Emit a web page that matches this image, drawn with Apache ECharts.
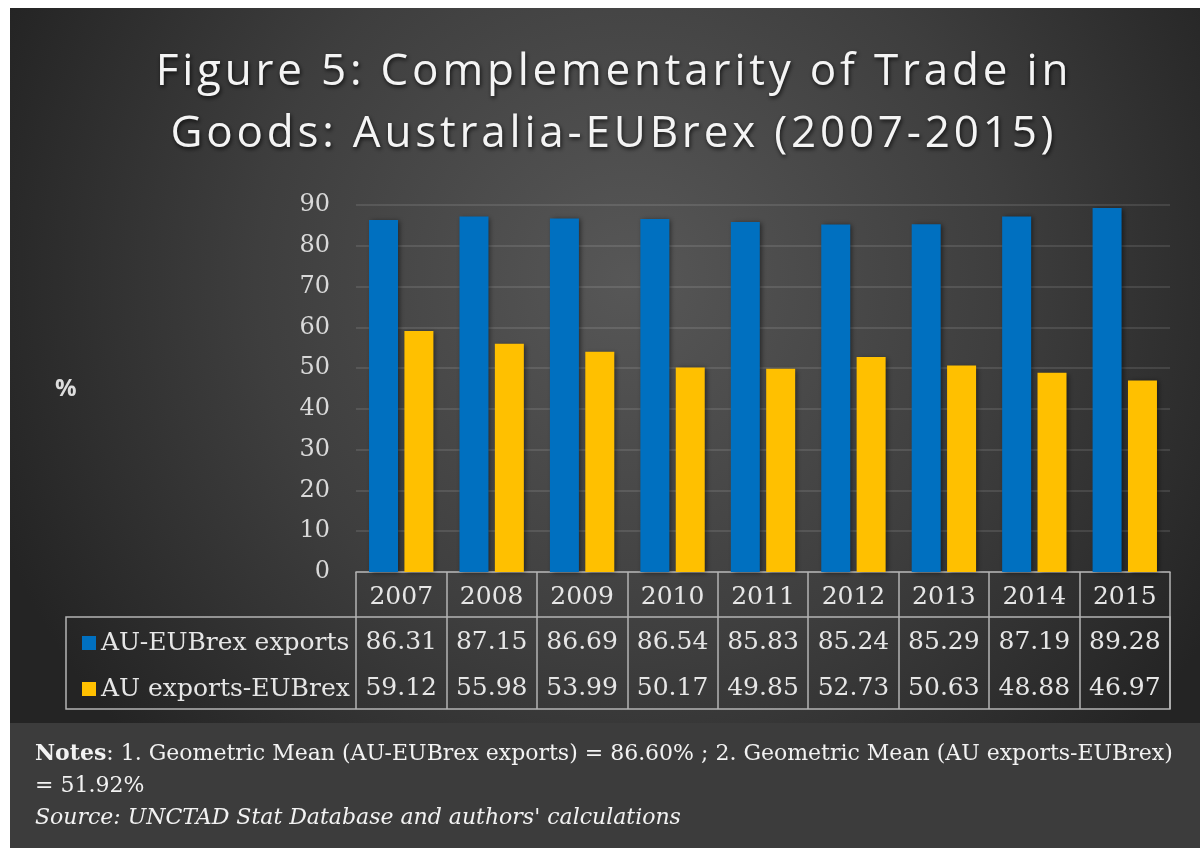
<!DOCTYPE html>
<html>
<head>
<meta charset="utf-8">
<script src="https://cdn.jsdelivr.net/npm/echarts@6/dist/echarts.min.js"></script>
<style>
  html, body { margin: 0; padding: 0; background: #fff; }
  #chart { width: 1200px; height: 848px; }
</style>
</head>
<body>
<div id="chart"></div>
<script>
// data
var years = ['2007', '2008', '2009', '2010', '2011', '2012', '2013', '2014', '2015'];
var auEubrexExports = [86.31, 87.15, 86.69, 86.54, 85.83, 85.24, 85.29, 87.19, 89.28];
var auExportsEubrex = [59.12, 55.98, 53.99, 50.17, 49.85, 52.73, 50.63, 48.88, 46.97];
var seriesNames = ['AU-EUBrex exports', 'AU exports-EUBrex'];
var yTicks = { min: 0, max: 90, interval: 10 };
var titleLines = ['Figure 5: Complementarity of Trade in', 'Goods: Australia-EUBrex (2007-2015)'];

var serif = '"DejaVu Serif", serif';
var lineColor = '#b4b4b4';
var textColor = '#e6e6e6';

// wrap every character in a rich token so the title gets some letter spacing
function spaced(lines) {
  return lines.map(function (l) {
    return l.split('').map(function (c) { return '{s|' + c + '}'; }).join('');
  }).join('\n');
}

var chart = echarts.init(document.getElementById('chart'));

function valueAxis(values, offset) {
  return {
    type: 'category',
    data: years,
    position: 'bottom',
    offset: offset,
    axisLine: { show: false },
    axisTick: { show: false },
    axisLabel: {
      interval: 0,
      margin: 13,
      color: textColor,
      fontFamily: serif,
      fontSize: 25,
      formatter: function (v, i) { return values[i].toFixed(2); }
    }
  };
}

var titleFont = {
  fontFamily: '"Open Sans", sans-serif',
  fontWeight: 'normal',
  fontSize: 44,
  lineHeight: 62,
  color: '#f4f4f4',
  textShadowColor: 'rgba(0,0,0,0.75)',
  textShadowBlur: 4,
  textShadowOffsetX: 1,
  textShadowOffsetY: 2
};

chart.setOption({
  backgroundColor: '#ffffff',
  title: {
    text: spaced(titleLines),
    left: 607,
    textAlign: 'center',
    top: 36,
    textStyle: Object.assign({}, titleFont, {
      rich: { s: Object.assign({}, titleFont, { padding: [0, 1.9] }) }
    })
  },
  legend: {
    orient: 'vertical',
    left: 77,
    top: 625,
    icon: 'rect',
    itemWidth: 14,
    itemHeight: 14,
    itemGap: 20,
    selectedMode: false,
    textStyle: { color: textColor, fontFamily: serif, fontSize: 25, lineHeight: 26 },
    data: seriesNames
  },
  grid: { left: 356, right: 30, top: 205, bottom: 276, outerBoundsMode: 'none' },
  xAxis: [
    {
      type: 'category',
      data: years,
      position: 'bottom',
      axisLine: { show: true, lineStyle: { color: lineColor, width: 1.5 } },
      axisTick: { show: true, length: 137, interval: 0, lineStyle: { color: lineColor, width: 1.5 } },
      axisLabel: { interval: 0, margin: 13, color: textColor, fontFamily: serif, fontSize: 25 }
    },
    valueAxis(auEubrexExports, 45),
    valueAxis(auExportsEubrex, 91)
  ],
  yAxis: {
    type: 'value',
    min: yTicks.min,
    max: yTicks.max,
    interval: yTicks.interval,
    axisLine: { show: false },
    axisTick: { show: false },
    axisLabel: { margin: 26, color: '#d9d9d9', fontFamily: serif, fontSize: 24 },
    splitLine: { lineStyle: { color: 'rgba(255,255,255,0.14)', width: 1.5 } }
  },
  series: [
    {
      name: seriesNames[0],
      type: 'bar',
      data: auEubrexExports,
      barWidth: 29,
      barGap: '22%',
      itemStyle: {
        color: '#0070C0',
        shadowColor: 'rgba(0,0,0,0.5)', shadowBlur: 5, shadowOffsetX: 2, shadowOffsetY: 1
      }
    },
    {
      name: seriesNames[1],
      type: 'bar',
      data: auExportsEubrex,
      barWidth: 29,
      barGap: '22%',
      itemStyle: {
        color: '#FFC000',
        shadowColor: 'rgba(0,0,0,0.5)', shadowBlur: 5, shadowOffsetX: 2, shadowOffsetY: 1
      }
    }
  ],
  graphic: [
    {
      // chart panel
      type: 'rect', z: -20, silent: true,
      shape: { x: 10, y: 8, width: 1190, height: 715 },
      style: {
        fill: {
          type: 'radial', x: 0.52, y: 0.38, r: 0.95,
          colorStops: [
            { offset: 0, color: '#575757' },
            { offset: 0.55, color: '#3e3e3e' },
            { offset: 1, color: '#242424' }
          ]
        }
      }
    },
    {
      // notes panel
      type: 'rect', z: -20, silent: true,
      shape: { x: 10, y: 723, width: 1190, height: 125 },
      style: { fill: '#3c3c3c' }
    },
    {
      // legend cell + table body border
      type: 'rect', z: 5, silent: true,
      shape: { x: 66, y: 617, width: 1104, height: 92 },
      style: { fill: 'none', stroke: lineColor, lineWidth: 1.5 }
    },
    {
      type: 'text', silent: true,
      left: 55, top: 377,
      style: {
        text: '%',
        fill: '#dddddd',
        font: 'bold 24px "Open Sans", sans-serif'
      }
    },
    {
      type: 'text', silent: true,
      left: 35, top: 738,
      style: {
        text: '{b|Notes}: 1. Geometric Mean (AU-EUBrex exports) = 86.60% ; 2. Geometric Mean (AU exports-EUBrex)\n= 51.92%\n{i|Source: UNCTAD Stat Database and authors\' calculations}',
        fill: '#f2f2f2',
        fontFamily: serif,
        fontSize: 22,
        lineHeight: 32,
        rich: {
          b: { fontWeight: 'bold', fontFamily: serif, fontSize: 22, fill: '#f2f2f2', lineHeight: 32 },
          i: { fontStyle: 'italic', fontFamily: serif, fontSize: 22, fill: '#f2f2f2', lineHeight: 32 }
        }
      }
    }
  ]
});
</script>
</body>
</html>
